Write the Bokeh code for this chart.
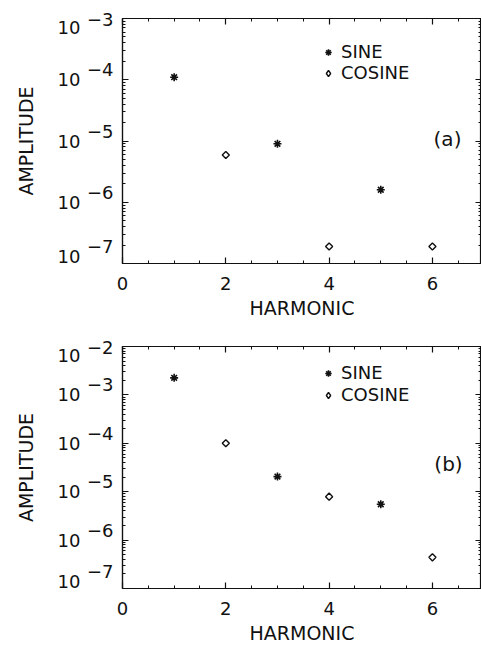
import math
from bokeh.plotting import figure
from bokeh.layouts import column
from bokeh.models import (Range1d, LogAxis, LinearAxis, FixedTicker, LogScale,
                          CustomJSTickFormatter, Label, Legend, LegendItem)
from bokeh.embed import file_html
from bokeh.resources import INLINE

# ---- data ----
harmonic_sine = [1, 3, 5]
harmonic_cosine = [2, 4, 6]
sine_a = [1.1e-4, 9.0e-6, 1.6e-6]
cosine_a = [5.9e-6, 1.9e-7, 1.9e-7]
sine_b = [2.25e-3, 2.05e-5, 5.5e-6]
cosine_b = [1.0e-4, 7.9e-6, 4.4e-7]
x_ticks = [0, 2, 4, 6]
x_minor_ticks = [0.5, 1, 1.5, 2.5, 3, 3.5, 4.5, 5, 5.5, 6.5]
exps_a = [-7, -6, -5, -4, -3]
exps_b = [-7, -6, -5, -4, -3, -2]
series_names = ["SINE", "COSINE"]
tags = ["(a)", "(b)"]

FONT = "DejaVu Sans"
INK = "#111111"
FRAME_W = 359


def empty_fmt():
    return CustomJSTickFormatter(code="return ''")


def style_ticks(ax):
    ax.major_tick_in = 6
    ax.major_tick_out = 0
    ax.minor_tick_in = 3
    ax.minor_tick_out = 0
    ax.axis_line_color = INK
    ax.axis_line_width = 1.2
    ax.major_tick_line_color = INK
    ax.minor_tick_line_color = INK
    ax.major_tick_line_width = 1.2
    ax.minor_tick_line_width = 1.0


def hide_lines(ax):
    ax.axis_line_color = None
    ax.major_tick_line_color = None
    ax.minor_tick_line_color = None
    ax.major_tick_in = 0
    ax.major_tick_out = 0
    ax.minor_tick_in = 0
    ax.minor_tick_out = 0


def one_legend(label, renderer, vy):
    return Legend(items=[LegendItem(label=label, renderers=[renderer])],
                  location=(198, vy), border_line_color=None,
                  background_fill_alpha=0, padding=0, margin=0,
                  glyph_width=16, glyph_height=16, label_height=16,
                  spacing=0, label_standoff=5, click_policy="none",
                  inactive_fill_alpha=0,
                  label_text_font=FONT, label_text_font_size="18px",
                  label_text_color=INK)


def make_panel(sine, cosine, exps, tag, top_border, frame_h, bottom_border,
               legend_vys, tag_xy):
    ymin, ymax = 10.0 ** exps[0], 10.0 ** exps[-1]
    ppd = frame_h / (exps[-1] - exps[0])          # pixels per decade
    raise_dec = 10.0 / ppd                        # exponent raised by 10 px
    p = figure(frame_width=FRAME_W, frame_height=frame_h,
               x_range=Range1d(0, 6.95), y_range=Range1d(ymin, ymax),
               y_axis_type="log", output_backend="svg", toolbar_location=None,
               min_border_left=122, min_border_right=0,
               min_border_top=top_border, min_border_bottom=bottom_border)
    p.xgrid.visible = False
    p.ygrid.visible = False
    p.outline_line_color = INK
    p.outline_line_width = 1.2
    p.background_fill_color = "white"
    p.border_fill_color = "white"

    major = [10.0 ** e for e in exps]
    minor = [k * 10.0 ** e for e in exps[:-1] for k in range(2, 10)]

    # label positions: end labels pulled inside the frame like the original
    def shift_ten(e):
        return 9 if e == exps[-1] else (-7 if e == exps[0] else 0)

    def shift_exp(e):
        return 11 if e == exps[-1] else (-7 if e == exps[0] else 0)
    ten_ticks = [10.0 ** (e - shift_ten(e) / ppd) for e in exps]
    exp_ticks = [10.0 ** (e - shift_exp(e) / ppd) for e in exps]

    # left axis: ticks only
    ya = p.yaxis[0]
    ya.ticker = FixedTicker(ticks=major, minor_ticks=minor)
    ya.formatter = empty_fmt()
    ya.major_label_text_font_size = "0px"
    ya.major_label_standoff = 0
    style_ticks(ya)

    # exponent labels (raised)
    p.extra_y_ranges = {"exp": Range1d(ymin * 10 ** (-raise_dec), ymax * 10 ** (-raise_dec))}
    p.extra_y_scales = {"exp": LogScale()}
    ax_exp = LogAxis(y_range_name="exp",
                     ticker=FixedTicker(ticks=exp_ticks, minor_ticks=[]),
                     formatter=CustomJSTickFormatter(
                         code="return '\\u2212' + Math.round(-Math.log10(tick));"),
                     major_label_standoff=9,
                     major_label_text_font=FONT, major_label_text_font_size="18px",
                     major_label_text_color=INK)
    hide_lines(ax_exp)
    p.add_layout(ax_exp, "left")

    # mantissa "10" labels + axis title
    ax_ten = LogAxis(ticker=FixedTicker(ticks=ten_ticks, minor_ticks=[]),
                     formatter=CustomJSTickFormatter(code="return '10';"),
                     major_label_standoff=3,
                     major_label_text_font=FONT, major_label_text_font_size="18px",
                     major_label_text_color=INK,
                     axis_label="AMPLITUDE", axis_label_text_font=FONT,
                     axis_label_text_font_size="19px",
                     axis_label_text_font_style="normal",
                     axis_label_text_color=INK, axis_label_standoff=18)
    hide_lines(ax_ten)
    p.add_layout(ax_ten, "left")

    # bottom axis
    xa = p.xaxis[0]
    xa.ticker = FixedTicker(ticks=x_ticks, minor_ticks=x_minor_ticks)
    xa.major_label_text_font = FONT
    xa.major_label_text_font_size = "18px"
    xa.major_label_text_color = INK
    xa.major_label_standoff = 13
    xa.axis_label = "HARMONIC"
    xa.axis_label_text_font = FONT
    xa.axis_label_text_font_size = "19px"
    xa.axis_label_text_font_style = "normal"
    xa.axis_label_text_color = INK
    xa.axis_label_standoff = 4
    style_ticks(xa)

    # top and right axes (ticks only)
    top = LinearAxis(ticker=FixedTicker(ticks=x_ticks, minor_ticks=x_minor_ticks),
                     formatter=empty_fmt(), major_label_text_font_size="0px",
                     major_label_standoff=0)
    style_ticks(top)
    p.add_layout(top, "above")
    right = LogAxis(ticker=FixedTicker(ticks=major, minor_ticks=minor),
                    formatter=empty_fmt(), major_label_text_font_size="0px",
                    major_label_standoff=0)
    style_ticks(right)
    p.add_layout(right, "right")

    r1 = p.scatter(harmonic_sine, sine, marker="asterisk", size=8,
                   line_color=INK, line_width=1.6)
    p.scatter(harmonic_cosine, cosine, marker="square", size=5,
              angle=math.pi / 4, fill_color=None, line_color=INK,
              line_width=1.4)
    # legend key for the diamond symbol (same data, not drawn in the plot)
    r2_key = p.scatter(harmonic_cosine, cosine, marker="diamond", size=8,
                       fill_color=None, line_color=INK, line_width=1.4,
                       visible=False)

    p.add_layout(one_legend(series_names[0], r1, legend_vys[0]))
    p.add_layout(one_legend(series_names[1], r2_key, legend_vys[1]))

    p.add_layout(Label(x=tag_xy[0], y=tag_xy[1], x_units="screen", y_units="screen",
                       text=tag, text_align="center", text_baseline="middle",
                       text_font=FONT, text_font_size="20px", text_color=INK))
    return p


pa = make_panel(sine_a, cosine_a, exps_a, tags[0], 18, 245, 65,
                (201, 180), (325, 125))
pb = make_panel(sine_b, cosine_b, exps_b, tags[1], 18, 242, 49,
                (205, 183), (326, 125))

layout = column(pa, pb, spacing=0)
open("out.html", "w").write(file_html(layout, INLINE))
